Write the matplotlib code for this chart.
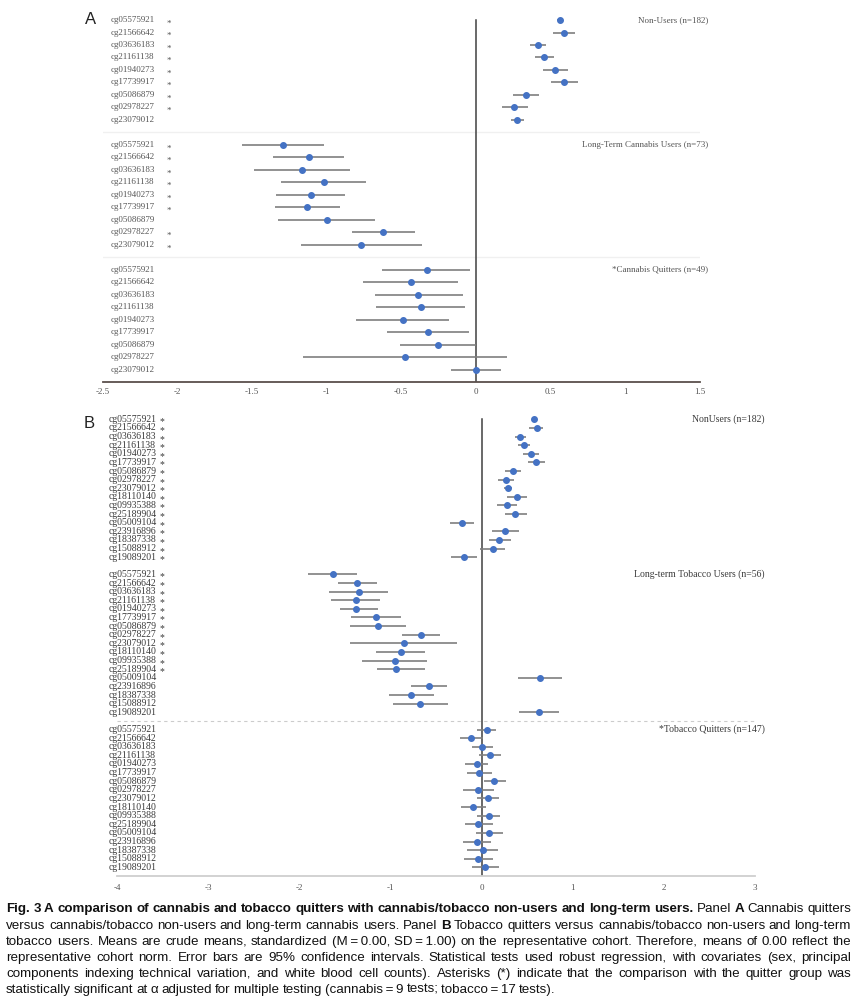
import matplotlib.pyplot as plt
from matplotlib import transforms

# ---- data ----
probes_a = ['cg05575921', 'cg21566642', 'cg03636183', 'cg21161138', 'cg01940273',
            'cg17739917', 'cg05086879', 'cg02978227', 'cg23079012']
probes_b = probes_a + ['cg18110140', 'cg09935388', 'cg25189904', 'cg05009104',
                       'cg23916896', 'cg18387338', 'cg15088912', 'cg19089201']

groups_a = ['Non-Users (n=182)', 'Long-Term Cannabis Users (n=73)', '*Cannabis Quitters (n=49)']
groups_b = ['NonUsers (n=182)', 'Long-term Tobacco Users (n=56)', '*Tobacco Quitters (n=147)']

# Panel A: cannabis
nonusers_a_mean = [0.56, 0.59, 0.415, 0.457, 0.531, 0.591, 0.332, 0.257, 0.274]
nonusers_a_lo = [0.545, 0.518, 0.359, 0.393, 0.451, 0.50, 0.248, 0.176, 0.236]
nonusers_a_hi = [0.575, 0.663, 0.469, 0.522, 0.614, 0.681, 0.419, 0.346, 0.323]
nonusers_a_sig = [1, 1, 1, 1, 1, 1, 1, 1, 0]

longterm_a_mean = [-1.29, -1.12, -1.165, -1.02, -1.107, -1.129, -1.0, -0.62, -0.768]
longterm_a_lo = [-1.564, -1.357, -1.486, -1.303, -1.337, -1.347, -1.325, -0.83, -1.173]
longterm_a_hi = [-1.015, -0.884, -0.841, -0.736, -0.877, -0.908, -0.674, -0.406, -0.359]
longterm_a_sig = [1, 1, 1, 1, 1, 1, 0, 1, 1]

quitters_a_mean = [-0.33, -0.437, -0.386, -0.368, -0.491, -0.319, -0.252, -0.477, 0.0]
quitters_a_lo = [-0.627, -0.754, -0.678, -0.667, -0.801, -0.598, -0.507, -1.16, -0.17]
quitters_a_hi = [-0.038, -0.118, -0.089, -0.072, -0.179, -0.049, 0.0, 0.205, 0.165]
quitters_a_sig = [0] * 9

# Panel B: tobacco
nonusers_b_mean = [0.571, 0.604, 0.425, 0.465, 0.542, 0.601, 0.341, 0.267, 0.289,
                   0.388, 0.275, 0.37, -0.216, 0.256, 0.194, 0.121, -0.194]
nonusers_b_lo = [0.55, 0.524, 0.366, 0.399, 0.458, 0.509, 0.256, 0.183, 0.249,
                 0.278, 0.168, 0.26, -0.348, 0.11, 0.077, -0.018, -0.341]
nonusers_b_hi = [0.592, 0.674, 0.484, 0.535, 0.626, 0.696, 0.429, 0.352, 0.333,
                 0.502, 0.385, 0.495, -0.085, 0.41, 0.319, 0.256, -0.048]
nonusers_b_sig = [1] * 17

longterm_b_mean = [-1.634, -1.366, -1.352, -1.385, -1.377, -1.161, -1.135, -0.667, -0.857,
                   -0.89, -0.956, -0.942, 0.637, -0.575, -0.777, -0.678, 0.63]
longterm_b_lo = [-1.909, -1.575, -1.674, -1.652, -1.56, -1.44, -1.443, -0.872, -1.443,
                 -1.157, -1.311, -1.154, 0.396, -0.773, -1.018, -0.978, 0.414]
longterm_b_hi = [-1.366, -1.15, -1.033, -1.114, -1.135, -0.886, -0.828, -0.454, -0.267,
                 -0.619, -0.604, -0.619, 0.879, -0.381, -0.527, -0.37, 0.85]
longterm_b_sig = [1] * 12 + [0] * 5

quitters_b_mean = [0.053, -0.114, 0.007, 0.092, -0.055, -0.026, 0.139, -0.04, 0.073,
                   -0.092, 0.081, -0.04, 0.081, -0.051, 0.018, -0.04, 0.04]
quitters_b_lo = [-0.048, -0.242, -0.11, -0.026, -0.183, -0.165, 0.026, -0.205, -0.048,
                 -0.227, -0.048, -0.183, -0.066, -0.201, -0.157, -0.198, -0.102]
quitters_b_hi = [0.157, 0.018, 0.128, 0.216, 0.07, 0.11, 0.264, 0.14, 0.19,
                 0.051, 0.201, 0.121, 0.234, 0.103, 0.183, 0.125, 0.187]
quitters_b_sig = [0] * 17

xticks_a = [-2.5, -2, -1.5, -1, -0.5, 0, 0.5, 1, 1.5]
xticks_b = [-4, -3, -2, -1, 0, 1, 2, 3]

caption = [
    [("Fig. 3", True), ("A comparison of cannabis and tobacco quitters with cannabis/tobacco non-users and long-term users.", True),
     ("Panel", False), ("A", True), ("Cannabis quitters", False)],
    [("versus cannabis/tobacco non-users and long-term cannabis users. Panel", False), ("B", True),
     ("Tobacco quitters versus cannabis/tobacco non-users and long-term", False)],
    [("tobacco users. Means are crude means, standardized (M\u2009=\u20090.00, SD\u2009=\u20091.00) on the representative cohort. Therefore, means of 0.00 reflect the", False)],
    [("representative cohort norm. Error bars are 95% confidence intervals. Statistical tests used robust regression, with covariates (sex, principal", False)],
    [("components indexing technical variation, and white blood cell counts). Asterisks (*) indicate that the comparison with the quitter group was", False)],
    [("statistically significant at \u03b1 adjusted for multiple testing (cannabis\u2009=\u20099 tests; tobacco\u2009=\u200917 tests).", False)],
]

W, H = 857, 1000
SERIF = ['Liberation Serif', 'DejaVu Serif']
DOT = '#4472C4'
BAR = '#7f7f7f'

fig = plt.figure(figsize=(W / 100, H / 100), dpi=100)


def px_axes(x0, x1, ytop, ybot):
    return fig.add_axes([x0 / W, 1 - ybot / H, (x1 - x0) / W, (ybot - ytop) / H])


def draw_panel(ax, probes, groups, means, los, his, sigs, xlim, xticks, nrows,
               label_x, star_x, group_x, fs, label_col, axis_col, tick_pad, ms):
    n = len(probes)
    lab_tr = transforms.blended_transform_factory(fig.transFigure, ax.transData)
    for g in range(3):
        rows = [g * (n + 1) + i for i in range(n)]
        ax.hlines(rows, los[g], his[g], color=BAR, lw=1.2, zorder=2)
        ax.plot(means[g], rows, 'o', color=DOT, ms=ms, zorder=3)
        for i, r in enumerate(rows):
            ax.text(label_x / W, r, probes[i], transform=lab_tr, ha='left', va='center',
                    fontsize=fs, family=SERIF, color=label_col)
            if sigs[g][i]:
                ax.text(star_x / W, r + 0.3, '*', transform=lab_tr, ha='center', va='center',
                        fontsize=fs, family=SERIF, color=label_col)
        ax.text(group_x / W, rows[0], groups[g], transform=lab_tr, ha='right', va='center',
                fontsize=fs, family=SERIF, color=label_col)
    ax.plot([0, 0], [0, nrows], color='#404040', lw=1.1, zorder=1)
    ax.set_xlim(xlim)
    ax.set_ylim(nrows, -0.5)
    ax.set_yticks([])
    ax.set_xticks(xticks)
    ax.set_xticklabels([('%g' % t) for t in xticks], family=SERIF, fontsize=6.5, color='#555555')
    ax.tick_params(axis='x', length=0, pad=tick_pad)
    for s in ['top', 'right', 'left']:
        ax.spines[s].set_visible(False)
    ax.spines['bottom'].set_color(axis_col)
    ax.spines['bottom'].set_linewidth(1.3)


# Panel A
ax_a = px_axes(102.5, 700, 13.8, 382)
draw_panel(ax_a, probes_a, groups_a,
           [nonusers_a_mean, longterm_a_mean, quitters_a_mean],
           [nonusers_a_lo, longterm_a_lo, quitters_a_lo],
           [nonusers_a_hi, longterm_a_hi, quitters_a_hi],
           [nonusers_a_sig, longterm_a_sig, quitters_a_sig],
           (-2.5, 1.5), xticks_a, 29, 111, 169, 708, 6.5, '#555555', '#5a4f4c', 4, 4.0)
sep_tr = transforms.blended_transform_factory(fig.transFigure, ax_a.transData)
for yr in [9, 19]:
    ax_a.plot([93 / W, 700 / W], [yr, yr], color='#f0f0f0', lw=1.0, transform=sep_tr, zorder=0)

# Panel B
ax_b = px_axes(117.3, 755, 415, 876)
draw_panel(ax_b, probes_b, groups_b,
           [nonusers_b_mean, longterm_b_mean, quitters_b_mean],
           [nonusers_b_lo, longterm_b_lo, quitters_b_lo],
           [nonusers_b_hi, longterm_b_hi, quitters_b_hi],
           [nonusers_b_sig, longterm_b_sig, quitters_b_sig],
           (-4, 3), xticks_b, 53, 109, 162, 765, 7.0, '#3a3a3a', '#cfcfcf', 6, 4.0)
sep_tr_b = transforms.blended_transform_factory(fig.transFigure, ax_b.transData)
ax_b.plot([117 / W, 765 / W], [35, 35], color='#cccccc', lw=0.8, ls=(0, (3, 3)),
          transform=sep_tr_b, zorder=0)

# panel letters
fig.text(91 / W, 1 - 20 / H, 'A', fontsize=12, family=['Liberation Sans', 'DejaVu Sans'],
         ha='center', va='center', color='#222222')
fig.text(89 / W, 1 - 424 / H, 'B', fontsize=12, family=['Liberation Sans', 'DejaVu Sans'],
         ha='center', va='center', color='#222222')

# caption, justified word by word (baseline aligned)
cap_family = ['Liberation Sans Narrow', 'Liberation Sans', 'DejaVu Sans']
renderer = fig.canvas.get_renderer()
cap_base = [912, 929, 945, 961, 977, 993]
for li, segs in enumerate(caption):
    words = []
    for text, bold in segs:
        for w in text.split(' '):
            words.append((w, bold))
    arts = [fig.text(0, 1 - cap_base[li] / H, w, fontsize=9.6, family=cap_family,
                     fontweight='bold' if b else 'normal', va='baseline', ha='left', color='#111111')
            for w, b in words]
    widths = [a.get_window_extent(renderer).width for a in arts]
    if li < len(caption) - 1:
        gap = max(2.0, (851 - 6 - sum(widths)) / (len(arts) - 1))
    else:
        gap = 3.0
    x = 6
    for a, wd in zip(arts, widths):
        a.set_x(x / W)
        x += wd + gap

fig.savefig('out.png', dpi=100)
